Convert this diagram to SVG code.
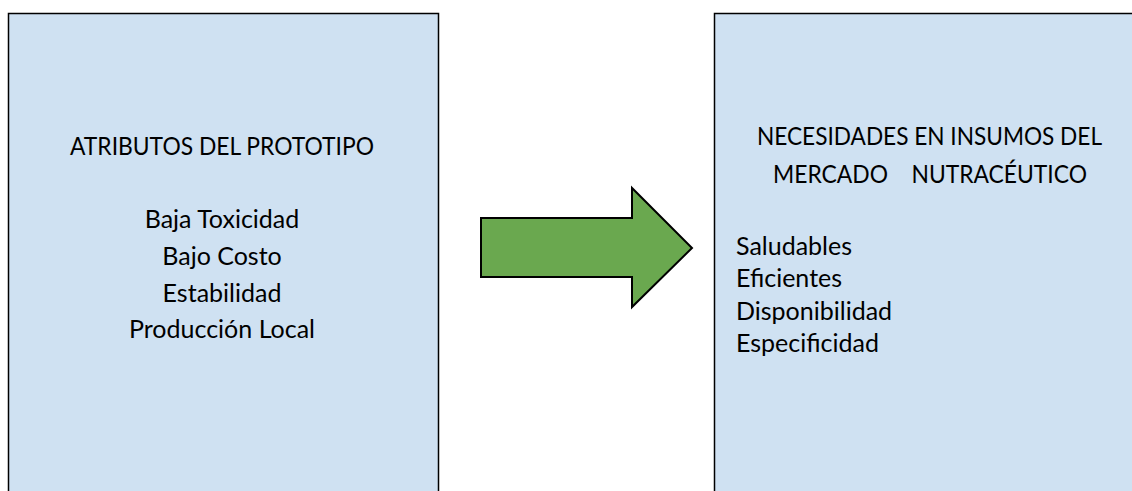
<svg xmlns="http://www.w3.org/2000/svg" width="1132" height="491" viewBox="0 0 1132 491">
<style>
.box{fill:#cfe1f2;stroke:#000;stroke-width:1.5}
.t{font-family:Lato,"Open Sans","Liberation Sans",sans-serif;font-size:25px;fill:#000}
.c{text-anchor:middle}
.arrow{fill:#6aa84f;stroke:#000;stroke-width:2;stroke-linejoin:miter}
</style>
<rect width="1132" height="491" fill="#fff"/>
<g id="node-atributos">
<rect class="box" x="8.5" y="13.5" width="430" height="480"/>
<text class="t c" x="222" y="155" textLength="304" lengthAdjust="spacingAndGlyphs">ATRIBUTOS DEL PROTOTIPO</text>
<text class="t c" x="222" y="228">Baja Toxicidad</text>
<text class="t c" x="222" y="265">Bajo Costo</text>
<text class="t c" x="222" y="302">Estabilidad</text>
<text class="t c" x="222" y="338">Producción Local</text>
</g>
<g id="connectors">
<polygon class="arrow" points="481,218 632,218 632,188 692,248 632,307 632,277 481,277"/>
</g>
<g id="node-necesidades">
<rect class="box" x="714.5" y="13.5" width="420" height="480"/>
<text class="t c" x="929.5" y="145" textLength="345" lengthAdjust="spacingAndGlyphs">NECESIDADES EN INSUMOS DEL</text>
<text class="t c" x="930" y="183" xml:space="preserve" textLength="314" lengthAdjust="spacingAndGlyphs">MERCADO    NUTRACÉUTICO</text>
<text class="t" x="736" y="255">Saludables</text>
<text class="t" x="736" y="287">Eficientes</text>
<text class="t" x="736" y="320">Disponibilidad</text>
<text class="t" x="736" y="352">Especificidad</text>
</g>
</svg>
